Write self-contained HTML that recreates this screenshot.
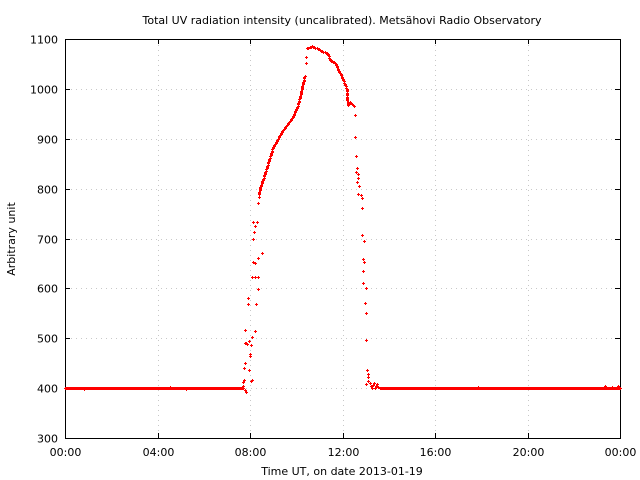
<!DOCTYPE html>
<html><head><meta charset="utf-8"><style>
body{margin:0;background:#fff;}
svg{display:block;font-family:"DejaVu Sans","Liberation Sans",sans-serif;}
</style></head><body>
<svg id="s" width="640" height="480" xmlns="http://www.w3.org/2000/svg" shape-rendering="crispEdges">
<rect width="640" height="480" fill="#fff"/>
<g id="grid" stroke="#c8c8c8" stroke-width="1" stroke-dasharray="1,4"></g>
<rect x="65.5" y="39.5" width="555" height="399" fill="none" stroke="#000"/>
<g id="ticks" stroke="#000"></g>
<g id="labels" font-size="11" fill="#000"></g>
<text x="342" y="24" font-size="11" text-anchor="middle">Total UV radiation intensity (uncalibrated). Metsähovi Radio Observatory</text>
<text x="342" y="475" font-size="11" text-anchor="middle">Time UT, on date 2013-01-19</text>
<text transform="translate(15,239) rotate(-90)" font-size="11" text-anchor="middle">Arbitrary unit</text>
<g id="pts" fill="#ff0000"></g>
</svg>
<script>
var NS="http://www.w3.org/2000/svg";
function el(p,t,a,txt){var e=document.createElementNS(NS,t);for(var k in a)e.setAttribute(k,a[k]);if(txt)e.textContent=txt;document.getElementById(p).appendChild(e);}
function yv(v){return 438-(v-300)*399/800;}
for(var v=300;v<=1100;v+=100){var y=Math.round(yv(v))+0.5;
 if(v>300&&v<1100)el("grid","line",{x1:66,x2:620,y1:y,y2:y});
 el("ticks","line",{x1:65,x2:70,y1:y,y2:y});el("ticks","line",{x1:615,x2:620,y1:y,y2:y});
 el("labels","text",{x:58,y:y+4,"text-anchor":"end"},String(v));}
var xl=["00:00","04:00","08:00","12:00","16:00","20:00","00:00"];
for(var i=0;i<=6;i++){var x=Math.round(65+i*92.5)+0.5;
 if(i>0&&i<6)el("grid","line",{x1:x,x2:x,y1:40,y2:438});
 el("ticks","line",{x1:x,x2:x,y1:438,y2:433});el("ticks","line",{x1:x,x2:x,y1:39,y2:44});
 el("labels","text",{x:x,y:456,"text-anchor":"middle"},xl[i]);}
function pt(x,y){x=Math.round(x);y=Math.round(y);el("pts","rect",{x:x-1,y:y,width:3,height:1});el("pts","rect",{x:x,y:y-1,width:1,height:3});}
for(var x=65;x<=243;x+=1)pt(x,388);
for(var x=380;x<=620;x+=1)pt(x,388);
pt(84,389);pt(170,387);pt(186,389);pt(478,387);pt(605,386);pt(612,387);pt(618,386);
var sc=[[245,330],[246,343],[247,344],[245,363],[244,368],[244,380],[243,382],[245,390],[246,392],[249,370],[251,381],[252,380],[250,354],[250,356],[251,345],[249,341],[252,337],[255,331],[245,343],[248,304],[248,298],[256,304],[258,289],[252,277],[255,277],[258,277],[253,262],[255,263],[258,258],[262,253],[253,239],[254,232],[255,226],[257,222],[253,222],[258,203],[259,197],[241,388],[243,386],
[357,182],[359,186],[358,194],[361,195],[362,198],[362,208],[362,235],[364,241],[363,259],[364,262],[363,271],[363,283],[366,288],[365,303],[366,313],[366,340],[367,370],[368,374],[368,377],[368,381],[366,384],[370,383],[371,386],[373,385],[374,383],[376,386],[377,384],[372,388],[375,388],[378,387],
[355,115],[355,137],[356,156],[357,168],[358,174],[358,178],[356,172],[306,63],[306,57]];
sc.forEach(function(p){pt(p[0],p[1]);});
var c=[[259,194],[260,188],[267,167],[273,147],[283,130],[292,118],[297,108],[300,97],[303,83],[305,75]];
var c2=[[307,48],[312,46],[320,50],[328,54],[330,60],[335,63],[340,73],[345,85],[347,90],[347,98],[348,105],[350,102],[355,107]];
function draw(c){for(var i=0;i<c.length-1;i++){var a=c[i],b=c[i+1],n=Math.max(2,Math.round(Math.hypot(b[0]-a[0],b[1]-a[1])*0.8));
 for(var j=0;j<n;j++){var t=j/n;pt(a[0]+(b[0]-a[0])*t,a[1]+(b[1]-a[1])*t);}}}
draw(c);draw(c2);
</script>
</body></html>
